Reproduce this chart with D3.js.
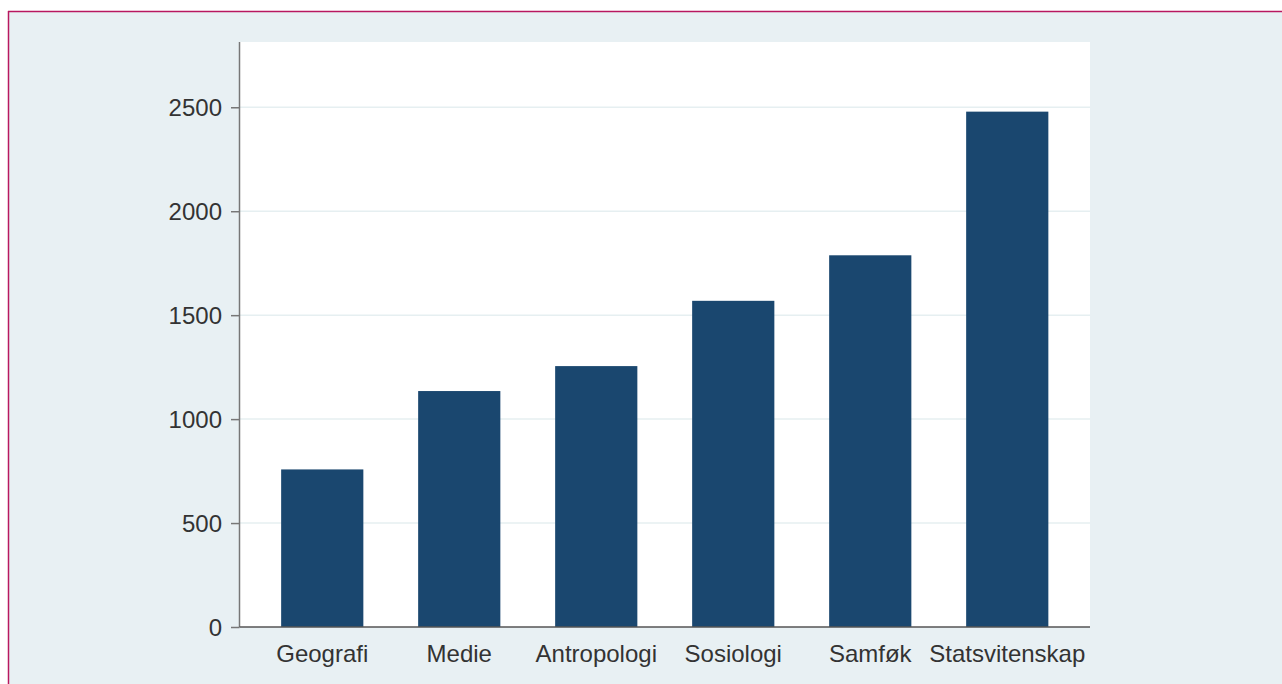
<!DOCTYPE html>
<html>
<head>
<meta charset="utf-8">
<script src="https://cdn.jsdelivr.net/npm/d3@7"></script>
<style>
html,body{margin:0;padding:0;background:#fff;}
svg{display:block;}
text{font-family:"Liberation Sans",Arial,Helvetica,sans-serif;}
</style>
</head>
<body>
<svg id="chart" width="1282" height="684"></svg>
<script>
const categories = ["Geografi","Medie","Antropologi","Sosiologi","Samføk","Statsvitenskap"];
const values = [758, 1135, 1255, 1569, 1788, 2479];
const yTicks = [0, 500, 1000, 1500, 2000, 2500];

const W = 1282, H = 684;
const plot = {left: 239.5, right: 1090, top: 42, bottom: 627};
const yMax = 2814;

const svg = d3.select("#chart");

// outer background and border
svg.append("rect").attr("x",0).attr("y",0).attr("width",W).attr("height",H).attr("fill","#ffffff");
svg.append("rect").attr("x",9).attr("y",12).attr("width",W).attr("height",H).attr("fill","#e8f0f3");
svg.append("line").attr("x1",8).attr("x2",W).attr("y1",11.5).attr("y2",11.5).attr("stroke","#b8185f").attr("stroke-width",1.5);
svg.append("line").attr("x1",8.5).attr("x2",8.5).attr("y1",11).attr("y2",H).attr("stroke","#b8185f").attr("stroke-width",1.5);

// plot area
svg.append("rect").attr("x",plot.left).attr("y",plot.top)
  .attr("width",plot.right-plot.left).attr("height",plot.bottom-plot.top).attr("fill","#ffffff");

const x = d3.scaleBand().domain(categories).range([plot.left, plot.right])
  .paddingInner(0.4).paddingOuter(0.304);
const y = d3.scaleLinear().domain([0, yMax]).range([plot.bottom, plot.top]);

// gridlines
svg.append("g").selectAll("line").data(yTicks.filter(d=>d>0)).join("line")
  .attr("x1",plot.left).attr("x2",plot.right)
  .attr("y1",d=>y(d)).attr("y2",d=>y(d))
  .attr("stroke","#e6eff1").attr("stroke-width",1.5);

// bars
svg.append("g").selectAll("rect").data(values).join("rect")
  .attr("x",(d,i)=>x(categories[i]))
  .attr("y",d=>y(d))
  .attr("width",x.bandwidth())
  .attr("height",d=>y(0)-y(d))
  .attr("fill","#1a476f");

// y axis
const yAxis = d3.axisLeft(y).tickValues(yTicks).tickSize(8.5).tickPadding(9).tickFormat(d3.format("d"));
const gy = svg.append("g").attr("transform",`translate(${plot.left},0)`).call(yAxis);
gy.select(".domain").attr("stroke","#777").attr("stroke-width",1.5).attr("d",`M-0,${plot.bottom}V${plot.top}`);
gy.selectAll(".tick line").attr("stroke","#777").attr("stroke-width",1.5);
gy.selectAll(".tick text").attr("font-size",24).attr("fill","#333").attr("dy","0.35em")
  .style("font-family","'Liberation Sans',Arial,sans-serif");

// x axis
const xAxis = d3.axisBottom(x).tickSize(0).tickPadding(17.5);
const gx = svg.append("g").attr("transform",`translate(0,${plot.bottom})`).call(xAxis);
gx.select(".domain").attr("stroke","#555").attr("stroke-width",1.5).attr("d",`M${plot.left},0H${plot.right}`);
gx.selectAll(".tick text").attr("font-size",24).attr("fill","#333")
  .style("font-family","'Liberation Sans',Arial,sans-serif");
</script>
</body>
</html>
